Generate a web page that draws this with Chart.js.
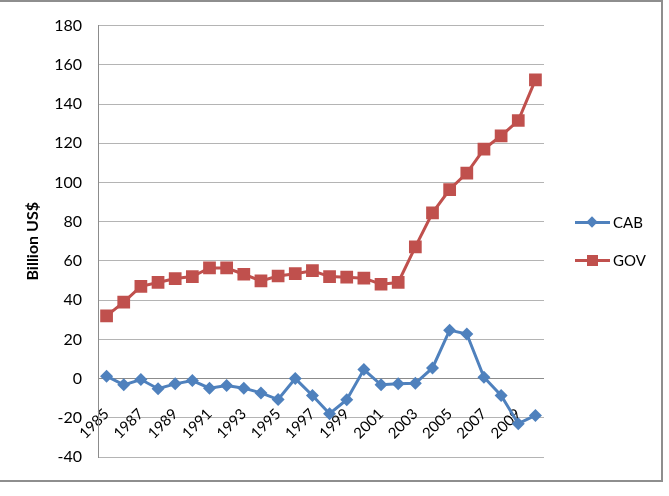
<!DOCTYPE html>
<html>
<head>
<meta charset="utf-8">
<script src="https://cdn.jsdelivr.net/npm/chart.js@4.4.1/dist/chart.umd.min.js"></script>
<style>
  html, body { margin: 0; padding: 0; background: #fff; }
  #wrap { position: relative; width: 669px; height: 496px; overflow: hidden; }
  #chart { position: absolute; left: 0; top: 0; }
  #frame {
    position: absolute; left: -2px; top: 0; width: 665px; height: 482px;
    box-sizing: border-box; border: 2px solid #8e8e8e; pointer-events: none;
  }
  .lg { position: absolute; left: 575px; height: 20px; width: 90px; font: 15px Lato, sans-serif; color: #000; }
  .lg .ln { position: absolute; left: 0; top: 9px; width: 35px; height: 3px; }
  .lg .mk { position: absolute; }
  .lg .tx { position: absolute; left: 38px; top: 1px; line-height: 18px; }
</style>
</head>
<body>
<div id="wrap">
  <canvas id="chart" width="669" height="496"></canvas>
  <div id="legend"></div>
  <div id="frame"></div>
</div>
<script>
const years = ['1985', '1986', '1987', '1988', '1989', '1990', '1991', '1992', '1993', '1994',
  '1995', '1996', '1997', '1998', '1999', '2000', '2001', '2002', '2003', '2004',
  '2005', '2006', '2007', '2008', '2009', '2010'];

const cab = [1.2, -3.2, -0.5, -5.2, -2.7, -1, -4.9, -3.6, -4.9, -7.3,
  -10.7, 0, -8.6, -17.9, -10.8, 4.6, -3.2, -2.7, -2.4, 5.4,
  24.7, 22.7, 0.7, -8.6, -23, -18.8];

const gov = [32, 39, 47, 49, 51, 52, 56.4, 56.4, 53.2, 49.8,
  52.3, 53.5, 55, 52, 51.7, 51.2, 48.1, 49, 67.2, 84.5,
  96.4, 104.8, 117, 123.8, 131.6, 152.3];

const yMin = -40;
const yMax = 180;
const yStep = 20;

const blue = '#4f81bd';
const red = '#c0504d';
const font = 'Lato, sans-serif';

function buildLegend() {
  const items = [
    { label: 'CAB', color: blue, top: 212, diamond: true },
    { label: 'GOV', color: red, top: 250, diamond: false },
  ];
  const box = document.getElementById('legend');
  items.forEach(it => {
    const el = document.createElement('div');
    el.className = 'lg';
    el.style.top = it.top + 'px';
    const mk = it.diamond
      ? `<div class="mk" style="left:13px;top:6px;width:8px;height:8px;background:${it.color};transform:rotate(45deg)"></div>`
      : `<div class="mk" style="left:12px;top:5px;width:11px;height:11px;background:${it.color}"></div>`;
    el.innerHTML = `<div class="ln" style="background:${it.color}"></div>${mk}<div class="tx">${it.label}</div>`;
    box.appendChild(el);
  });
}

function buildChart() {
  const ctx = document.getElementById('chart').getContext('2d');

  new Chart(ctx, {
    type: 'line',
    data: {
      labels: years,
      datasets: [
        {
          label: 'CAB',
          data: cab,
          borderColor: blue,
          backgroundColor: blue,
          borderWidth: 3,
          tension: 0,
          pointStyle: 'rectRot',
          pointRadius: 6.5,
          pointBorderWidth: 0,
          pointBackgroundColor: blue,
        },
        {
          label: 'GOV',
          data: gov,
          borderColor: red,
          backgroundColor: red,
          borderWidth: 3,
          tension: 0,
          pointStyle: 'rect',
          pointRadius: 9,
          pointBorderWidth: 0,
          pointBackgroundColor: red,
        }
      ]
    },
    options: {
      responsive: false,
      animation: false,
      layout: { padding: { top: 24, right: 125, bottom: 39, left: 0 } },
      plugins: {
        legend: { display: false },
        tooltip: { enabled: false }
      },
      scales: {
        x: {
          type: 'category',
          offset: true,
          // labels hang under the zero line, like Excel's axis crossing
          position: { y: -12 },
          afterFit: s => { s.height = 0; },
          grid: { display: false, drawTicks: false },
          border: { display: false },
          ticks: {
            autoSkip: false,
            minRotation: 45,
            maxRotation: 45,
            color: '#000',
            font: { family: font, size: 15 },
            callback: (v, i) => (i % 2 === 0 ? years[i] : '')
          }
        },
        y: {
          min: yMin,
          max: yMax,
          afterFit: s => { s.width = 98; },
          grid: {
            drawTicks: false,
            color: c => (c.tick && c.tick.value === 0 ? '#8c8c8c' : '#b4b4b4'),
            lineWidth: 1
          },
          border: { display: true, color: '#8c8c8c', width: 1 },
          ticks: {
            stepSize: yStep,
            padding: 16,
            color: '#000',
            font: { family: font, size: 16 }
          },
          title: {
            display: true,
            text: 'Billion US$',
            color: '#000',
            font: { family: font, size: 16, weight: 'bold' },
            padding: { top: 23, bottom: 0 }
          }
        }
      }
    }
  });
}

document.addEventListener('DOMContentLoaded', () => {
  buildLegend();
  buildChart();
});
</script>
</body>
</html>
